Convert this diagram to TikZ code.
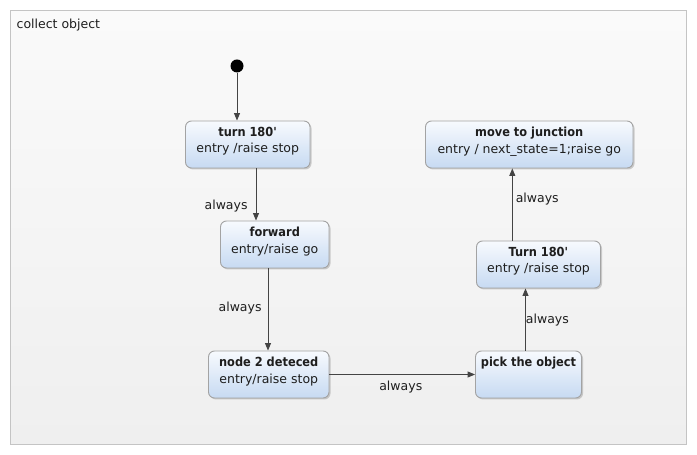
\documentclass[tikz,border=0pt]{standalone}
\usepackage{fontspec}
\setmainfont{DejaVu Sans}
\newfontfamily\titlefont{DejaVu Sans}[FakeStretch=0.91]
\usepackage{tikz}
\usetikzlibrary{shapes.geometric, arrows.meta, positioning, shadows}
\definecolor{framedraw}{HTML}{C4C4C4}
\definecolor{frametop}{HTML}{FAFAFA}
\definecolor{framebot}{HTML}{EFEFEF}
\definecolor{stateline}{HTML}{A3A3A3}
\definecolor{statetop}{HTML}{F7FAFE}
\definecolor{statebot}{HTML}{C7DAF2}
\definecolor{wire}{HTML}{444444}
\definecolor{ink}{HTML}{1E1E1E}
\tikzstyle{state} = [rectangle,
rounded corners=6pt,
minimum height=47pt,
draw=stateline, line width=0.9pt,
top color=statetop, bottom color=statebot,
drop shadow={shadow xshift=1.5pt, shadow yshift=-1.5pt, opacity=0.3, fill=black!60}]
\tikzstyle{statetext} = [anchor=north, yshift=-6.2pt, inner sep=0pt,
align=center, text=ink, font=\fontsize{12.5}{16.6}\selectfont]
\tikzstyle{guard} = [inner sep=0pt, yshift=-1.5pt, text=ink, font=\fontsize{12.5}{15}\selectfont]
\tikzstyle{arrow} = [draw=wire, line width=0.9pt, -{Triangle[length=7.5pt,width=6pt]}]
\newcommand{\stitle}[1]{{\titlefont\bfseries #1}}

\begin{document}
\begin{tikzpicture}[x=1pt, y=1pt]
            \useasboundingbox (0,0) rectangle (697,455);
            \draw [draw=framedraw, top color=frametop, bottom color=framebot] (10.5,10.5) rectangle (686.5,444.5);
            \node (title) [guard, anchor=west] at (16.5,431) {collect object};

            \node (init) [circle, fill=black, minimum size=13pt, inner sep=0pt] at (237,389) {};
            \node (turn) [state, minimum width=124.5pt,
                label={[statetext]north:{\stitle{turn 180\textquotesingle}\\entry /raise stop}}] at (247.75,310.5) {};
            \node (fwd) [state, minimum width=108.5pt,
                label={[statetext]north:{\stitle{forward}\\entry/raise go}}] at (274.75,210.5) {};
            \node (det) [state, minimum width=120.5pt,
                label={[statetext]north:{\stitle{node 2 deteced}\\entry/raise stop}}] at (268.75,80.5) {};
            \node (pick) [state, minimum width=106pt,
                label={[statetext]north:{\stitle{pick the object}}}] at (528.5,80.5) {};
            \node (turnb) [state, minimum width=124pt,
                label={[statetext]north:{\stitle{Turn 180\textquotesingle}\\entry /raise stop}}] at (538.5,190.5) {};
            \node (move) [state, minimum width=207.5pt,
                label={[statetext]north:{\stitle{move to junction}\\entry / next\_state=1;raise go}}] at (529.25,310.5) {};

            \coordinate (lane1) at (256,0);
            \coordinate (lane2) at (268,0);
            \coordinate (lane3) at (525.5,0);
            \coordinate (lane4) at (512.3,0);

            \draw [arrow] (init) -- (init |- turn.north);
            \draw [arrow] (turn.south -| lane1) -- node[guard, pos=0.69, left=8pt] {always} (fwd.north -| lane1);
            \draw [arrow] (fwd.south -| lane2) -- node[guard, pos=0.47, left=6pt] {always} (det.north -| lane2);
            \draw [arrow] (det) -- node[guard, pos=0.49, below=4.5pt] {always} (pick);
            \draw [arrow] (pick.north -| lane3) -- node[guard, pos=0.51, right=0pt] {always} (turnb.south -| lane3);
            \draw [arrow] (turnb.north -| lane4) -- node[guard, pos=0.59, right=3pt] {always} (move.south -| lane4);
        \end{tikzpicture}
\end{document}
